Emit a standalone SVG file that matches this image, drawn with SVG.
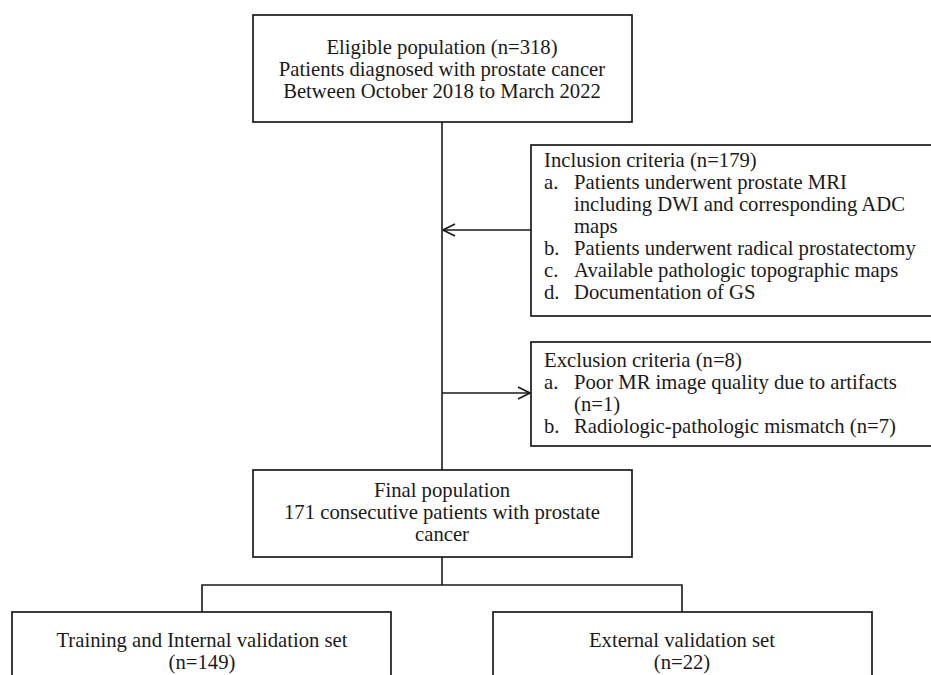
<svg xmlns="http://www.w3.org/2000/svg" width="931" height="675" viewBox="0 0 931 675">
<style>
  .box { fill: #ffffff; stroke: #1a1a1a; stroke-width: 1.7; }
  .conn { fill: none; stroke: #1a1a1a; stroke-width: 1.6; }
  text { font-family: "Liberation Serif", "Times New Roman", serif; font-size: 20.7px; fill: #1a1a1a; }
  .c { text-anchor: middle; }
</style>
<defs>
  <marker id="chev" viewBox="-13 -7 14 14" refX="0" refY="0" markerWidth="14" markerHeight="14" markerUnits="userSpaceOnUse" orient="auto">
    <path d="M-12,-6 L0,0 L-12,6" fill="none" stroke="#1a1a1a" stroke-width="1.6"/>
  </marker>
</defs>
<rect width="931" height="675" fill="#ffffff"/>
<g id="connectors">
  <line class="conn" x1="442" y1="122" x2="442" y2="470"/>
  <line class="conn" x1="531" y1="230" x2="443" y2="230" marker-end="url(#chev)"/>
  <line class="conn" x1="442" y1="393" x2="530" y2="393" marker-end="url(#chev)"/>
  <line class="conn" x1="442" y1="557" x2="442" y2="585"/>
  <polyline class="conn" points="202,612 202,585 682,585 682,612"/>
</g>
<g id="eligible">
  <rect class="box" x="253" y="15" width="379" height="107"/>
  <text class="c" x="442" y="54">Eligible population (n=318)</text>
  <text class="c" x="442" y="76">Patients diagnosed with prostate cancer</text>
  <text class="c" x="442" y="98">Between October 2018 to March 2022</text>
</g>
<g id="inclusion">
  <rect class="box" x="531" y="145" width="410" height="171"/>
  <text x="544" y="167">Inclusion criteria (n=179)</text>
  <text x="544" y="189">a.</text><text x="574" y="189">Patients underwent prostate MRI</text>
  <text x="574" y="211">including DWI and corresponding ADC</text>
  <text x="574" y="233">maps</text>
  <text x="544" y="255">b.</text><text x="574" y="255">Patients underwent radical prostatectomy</text>
  <text x="544" y="277">c.</text><text x="574" y="277">Available pathologic topographic maps</text>
  <text x="544" y="299">d.</text><text x="574" y="299">Documentation of GS</text>
</g>
<g id="exclusion">
  <rect class="box" x="531" y="342" width="410" height="104"/>
  <text x="544" y="367">Exclusion criteria (n=8)</text>
  <text x="544" y="389">a.</text><text x="574" y="389">Poor MR image quality due to artifacts</text>
  <text x="574" y="411">(n=1)</text>
  <text x="544" y="433">b.</text><text x="574" y="433">Radiologic-pathologic mismatch (n=7)</text>
</g>
<g id="final">
  <rect class="box" x="253" y="470" width="379" height="87"/>
  <text class="c" x="442" y="497">Final population</text>
  <text class="c" x="442" y="519">171 consecutive patients with prostate</text>
  <text class="c" x="442" y="541">cancer</text>
</g>
<g id="training">
  <rect class="box" x="12" y="612" width="379" height="80"/>
  <text class="c" x="202" y="647">Training and Internal validation set</text>
  <text class="c" x="202" y="669">(n=149)</text>
</g>
<g id="external">
  <rect class="box" x="493" y="612" width="379" height="80"/>
  <text class="c" x="682" y="647">External validation set</text>
  <text class="c" x="682" y="669">(n=22)</text>
</g>
</svg>
